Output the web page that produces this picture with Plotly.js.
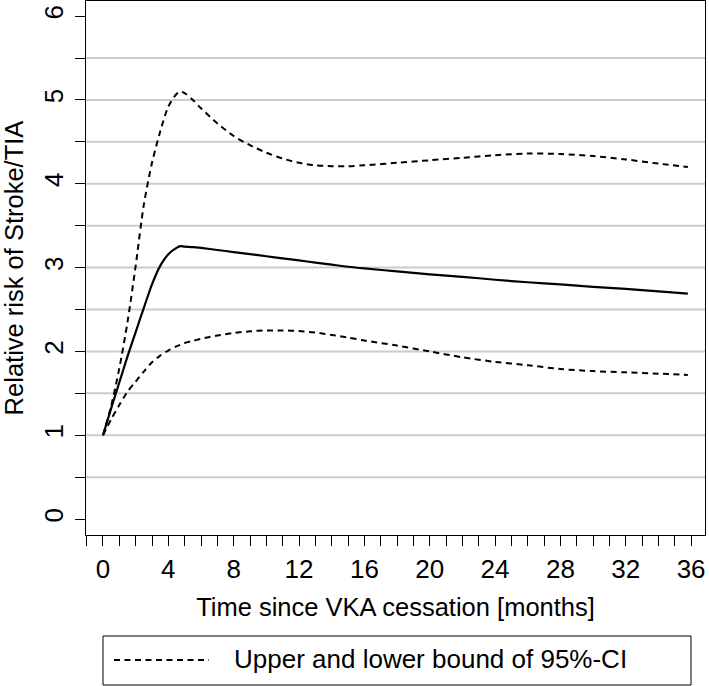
<!DOCTYPE html>
<html><head><meta charset="utf-8">
<script src="https://cdn.plot.ly/plotly-3.0.1.min.js"></script>
<style>html,body{margin:0;padding:0;background:#fff}</style>
</head><body>
<div id="chart" style="width:709px;height:686px"></div>
<script>
const months = [0, 0.5, 1, 1.5, 2, 2.5, 3, 3.5, 4, 4.5, 4.75, 5, 5.5, 6, 7, 8, 9, 10, 11, 12, 13, 14, 15, 16, 18, 20, 22, 24, 26, 28, 30, 32, 34, 35.8];
const relRisk = [1.00, 1.32, 1.63, 1.94, 2.23, 2.52, 2.80, 3.02, 3.16, 3.235, 3.255, 3.25, 3.245, 3.235, 3.21, 3.185, 3.16, 3.135, 3.11, 3.085, 3.06, 3.035, 3.01, 2.99, 2.955, 2.92, 2.89, 2.855, 2.825, 2.80, 2.77, 2.745, 2.715, 2.69];
const upperCI = [1.00, 1.35, 1.80, 2.35, 3.02, 3.75, 4.25, 4.62, 4.92, 5.07, 5.10, 5.08, 5.00, 4.90, 4.72, 4.57, 4.46, 4.37, 4.30, 4.25, 4.22, 4.21, 4.21, 4.22, 4.25, 4.28, 4.31, 4.34, 4.36, 4.355, 4.33, 4.29, 4.24, 4.20];
const lowerCI = [1.00, 1.19, 1.36, 1.52, 1.64, 1.76, 1.87, 1.95, 2.01, 2.06, 2.08, 2.10, 2.125, 2.15, 2.19, 2.22, 2.24, 2.25, 2.25, 2.243, 2.225, 2.197, 2.165, 2.13, 2.07, 2.00, 1.93, 1.875, 1.835, 1.79, 1.765, 1.75, 1.735, 1.72];
const yTickVals = [0, 1, 2, 3, 4, 5, 6];
const xTickVals = [0, 4, 8, 12, 16, 20, 24, 28, 32, 36];
const gridVals = [0.5, 1, 1.5, 2, 2.5, 3, 3.5, 4, 4.5, 5, 5.5];
const xTitle = 'Time since VKA cessation [months]';
const yTitle = 'Relative risk of Stroke/TIA';
const legendLabel = 'Upper and lower bound of 95%-CI';

const W = 709, H = 686;
const M = {l: 86, r: 4, t: 1, b: 151};
const PW = W - M.l - M.r, PH = H - M.t - M.b;
const px = x => (x - M.l) / PW;
const py = y => (H - M.b - y) / PH;
const FONT = '"Liberation Sans", Arial, sans-serif';
const DASH = '6px,4.5px';

const common = {x: months, mode: 'lines', hoverinfo: 'skip', showlegend: false};
const traces = [
  Object.assign({}, common, {y: upperCI, name: legendLabel, line: {color: '#000', width: 2, dash: DASH, shape: 'spline', smoothing: 0.8}}),
  Object.assign({}, common, {y: lowerCI, name: legendLabel, line: {color: '#000', width: 2, dash: DASH, shape: 'spline', smoothing: 0.8}}),
  Object.assign({}, common, {y: relRisk, name: 'Relative risk', line: {color: '#000', width: 2.2, shape: 'spline', smoothing: 0.8}})
];

const shapes = gridVals.map(v => ({type: 'line', xref: 'paper', x0: 0, x1: 1, yref: 'y', y0: v, y1: v, layer: 'below', line: {color: '#cccccc', width: 2}}));
shapes.push({type: 'rect', xref: 'paper', yref: 'paper', x0: px(103), x1: px(691), y0: py(636), y1: py(685), line: {color: '#000', width: 1}});
shapes.push({type: 'line', xref: 'paper', yref: 'paper', x0: px(114), x1: px(209), y0: py(660), y1: py(660), line: {color: '#000', width: 2, dash: DASH}});

const layout = {
  width: W, height: H,
  margin: M,
  paper_bgcolor: '#fff', plot_bgcolor: '#fff',
  font: {family: FONT, color: '#000', size: 25},
  showlegend: false,
  xaxis: {
    range: [-1.04, 36.85], tickvals: xTickVals, ticks: 'outside', ticklen: 10, tickwidth: 1, tickcolor: '#000',
    minor: {dtick: 1, tick0: 0, ticks: 'outside', ticklen: 10, tickwidth: 1, tickcolor: '#000', showgrid: false},
    showgrid: false, zeroline: false, showline: true, mirror: true, linecolor: '#000', linewidth: 1,
    tickfont: {size: 26}, ticklabelstandoff: 1,
    title: {text: xTitle, font: {size: 25.5}, standoff: 14}
  },
  yaxis: {
    range: [-0.19, 6.18], tickvals: yTickVals, ticks: 'inside', ticklen: 0, tickwidth: 1, tickcolor: '#000',
    minor: {dtick: 0.5, tick0: 0, ticks: 'outside', ticklen: 10, tickwidth: 1, tickcolor: '#000', showgrid: false},
    showgrid: false, zeroline: false, showline: true, mirror: true, linecolor: '#000', linewidth: 1,
    tickangle: -90, tickfont: {size: 26}, ticklabelstandoff: 12,
    title: {text: yTitle, font: {size: 25.5}, standoff: 20}
  },
  shapes: shapes,
  annotations: [{text: legendLabel, xref: 'paper', yref: 'paper', x: px(232), y: py(659), xanchor: 'left', yanchor: 'middle', showarrow: false, font: {size: 26, color: '#000'}}]
};

Plotly.newPlot('chart', traces, layout, {displayModeBar: false, staticPlot: true});
</script>
</body></html>
